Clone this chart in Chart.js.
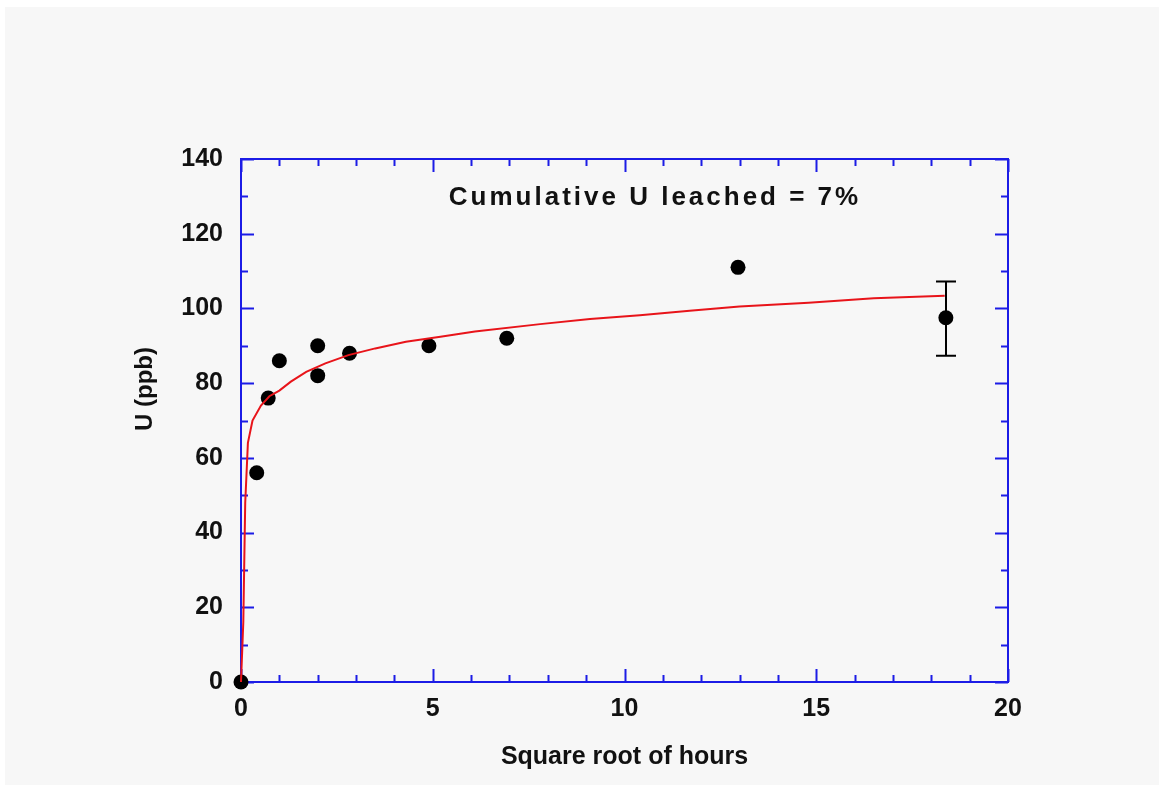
<!DOCTYPE html>
<html>
<head>
<meta charset="utf-8">
<title>U leached vs square root of hours</title>
<script src="https://cdn.jsdelivr.net/npm/chart.js@4/dist/chart.umd.min.js"></script>
<style>
  html, body { margin: 0; padding: 0; background: #ffffff; }
  #panel {
    position: absolute;
    left: 5px;
    top: 7px;
    width: 1154px;
    height: 778px;
    background: #f7f7f7;
  }
</style>
</head>
<body>
<div id="panel"><canvas id="leachChart" width="1154" height="778"></canvas></div>
<script>
// Measured points (x = square root of hours, y = U in ppb)
const pointX = [0, 0.41, 0.71, 1.0, 2.0, 2.0, 2.83, 4.9, 6.93, 12.96, 18.38];
const pointY = [0, 56, 76, 86, 90, 82, 88, 90, 92, 111, 97.5];

// Fitted curve
const fitX = [0, 0.06, 0.11, 0.18, 0.3, 0.52, 0.74, 1.0, 1.3, 1.7, 2.2, 2.8, 3.5, 4.3, 5.2, 6.1, 7.8, 9.1, 10.4, 11.7, 13.0, 14.8, 16.5, 18.35];
const fitY = [0, 16, 48, 64, 70, 74, 76.5, 78, 80.4, 83, 85.3, 87.5, 89.3, 91.1, 92.4, 93.8, 95.8, 97.2, 98.2, 99.4, 100.5, 101.5, 102.7, 103.4];

// Error bar on the last point
const errX = [18.38];
const errLow = [87.3];
const errHigh = [107.2];

// Tick labels
const xTicks = [0, 5, 10, 15, 20];
const yTicks = [0, 20, 40, 60, 80, 100, 120, 140];

const noteText = 'Cumulative U leached = 7%';
const yTitle = 'U (ppb)';
const axisBlue = '#1c1ce6';
const fontFamily = '"Liberation Sans", Arial, Helvetica, sans-serif';

// Box round the plot, inward ticks on all four sides, error bar, note
const framePlugin = {
  id: 'frame',
  beforeDatasetsDraw(chart) {
    const { ctx, chartArea: a, scales } = chart;
    ctx.save();
    ctx.strokeStyle = axisBlue;
    ctx.lineWidth = 2;
    ctx.strokeRect(a.left, a.top, a.right - a.left, a.bottom - a.top);

    ctx.beginPath();
    for (let v = 0; v <= 20; v++) {
      const px = Math.round(scales.x.getPixelForValue(v)) + 0.5;
      const len = v % 5 === 0 ? 13 : 7;
      ctx.moveTo(px, a.bottom); ctx.lineTo(px, a.bottom - len);
      ctx.moveTo(px, a.top); ctx.lineTo(px, a.top + len);
    }
    for (let v = 0; v <= 140; v += 10) {
      const py = Math.round(scales.y.getPixelForValue(v)) + 0.5;
      const len = v % 20 === 0 ? 13 : 7;
      ctx.moveTo(a.left, py); ctx.lineTo(a.left + len, py);
      ctx.moveTo(a.right, py); ctx.lineTo(a.right - len, py);
    }
    ctx.stroke();
    ctx.restore();
  },
  afterDatasetsDraw(chart) {
    const { ctx, chartArea: a, scales } = chart;
    ctx.save();
    ctx.strokeStyle = '#000000';
    ctx.lineWidth = 2;
    ctx.beginPath();
    errX.forEach((x, i) => {
      const px = Math.round(scales.x.getPixelForValue(x));
      const top = scales.y.getPixelForValue(errHigh[i]);
      const bot = scales.y.getPixelForValue(errLow[i]);
      ctx.moveTo(px, top); ctx.lineTo(px, bot);
      ctx.moveTo(px - 10, top); ctx.lineTo(px + 10, top);
      ctx.moveTo(px - 10, bot); ctx.lineTo(px + 10, bot);
    });
    ctx.stroke();

    // note inside the plot
    ctx.fillStyle = '#111111';
    ctx.font = 'bold 26px ' + fontFamily;
    ctx.textAlign = 'center';
    ctx.textBaseline = 'middle';
    if ('letterSpacing' in ctx) ctx.letterSpacing = '3px';
    ctx.fillText(noteText, a.left + 414, a.top + 39);
    ctx.restore();

    // y axis title, sits a little above the middle of the axis
    ctx.save();
    ctx.fillStyle = '#111111';
    ctx.font = 'bold 24px ' + fontFamily;
    ctx.textAlign = 'center';
    ctx.textBaseline = 'middle';
    ctx.translate(a.left - 96, a.top + 230);
    ctx.rotate(-Math.PI / 2);
    ctx.fillText(yTitle, 0, 0);
    ctx.restore();
  }
};

const ctx = document.getElementById('leachChart');
new Chart(ctx, {
  type: 'scatter',
  data: {
    datasets: [
      {
        type: 'line',
        label: 'fit',
        data: fitX.map((x, i) => ({ x: x, y: fitY[i] })),
        borderColor: '#e8141a',
        borderWidth: 2,
        pointRadius: 0,
        tension: 0,
        fill: false,
        clip: false
      },
      {
        label: 'U (ppb)',
        data: pointX.map((x, i) => ({ x: x, y: pointY[i] })),
        backgroundColor: '#000000',
        borderWidth: 0,
        pointRadius: 7.5,
        clip: false
      }
    ]
  },
  options: {
    responsive: false,
    animation: false,
    layout: { padding: { top: 152, right: 151, bottom: 0, left: 0 } },
    plugins: {
      legend: { display: false },
      tooltip: { enabled: false }
    },
    scales: {
      x: {
        type: 'linear',
        min: 0,
        max: 20,
        afterBuildTicks: (scale) => { scale.ticks = xTicks.map(v => ({ value: v })); },
        afterFit: (scale) => { scale.height = 103; },
        grid: { display: false, drawTicks: false },
        border: { display: false },
        ticks: {
          color: '#111111',
          padding: 12,
          font: { family: fontFamily, size: 25, weight: 'bold' }
        },
        title: {
          display: true,
          text: 'Square root of hours',
          color: '#111111',
          padding: { top: 0, bottom: 13 },
          font: { family: fontFamily, size: 25, weight: 'bold' }
        }
      },
      y: {
        type: 'linear',
        min: 0,
        max: 140,
        afterBuildTicks: (scale) => { scale.ticks = yTicks.map(v => ({ value: v })); },
        afterFit: (scale) => { scale.width = 236; },
        grid: { display: false, drawTicks: false },
        border: { display: false },
        ticks: {
          color: '#111111',
          padding: 18,
          font: { family: fontFamily, size: 25, weight: 'bold' }
        },
        title: { display: false }
      }
    }
  },
  plugins: [framePlugin]
});
</script>
</body>
</html>
